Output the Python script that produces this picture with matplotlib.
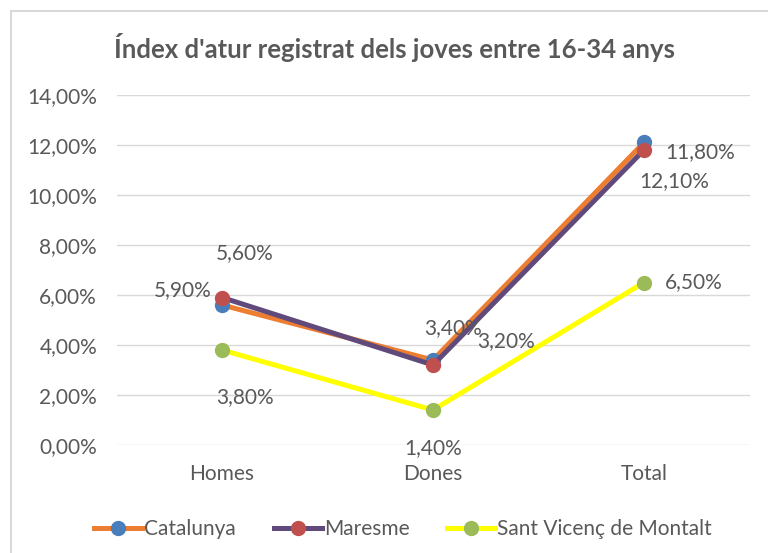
import matplotlib
matplotlib.use("Agg")
import matplotlib.pyplot as plt

categories = ["Homes", "Dones", "Total"]
catalunya = [5.60, 3.40, 12.10]
maresme = [5.90, 3.20, 11.80]
sant_vicenc = [3.80, 1.40, 6.50]
series_names = ["Catalunya", "Maresme", "Sant Vicenç de Montalt"]
yticks = [0, 2, 4, 6, 8, 10, 12, 14]

plt.rcParams['font.family'] = ['Lato', 'DejaVu Sans']
txt = '#595959'
fs = 15

fig = plt.figure(figsize=(7.68, 5.53), dpi=100)
fig.add_artist(plt.Line2D([10.5/768, 10.5/768], [0, 1 - 11/553], color='#d9d9d9', lw=1.5, transform=fig.transFigure))
fig.add_artist(plt.Line2D([10.5/768, 1], [1 - 11/553, 1 - 11/553], color='#d9d9d9', lw=1.5, transform=fig.transFigure))

ax = fig.add_axes([116.5/768, 1 - 445/553, (749.5 - 116.5)/768, (445 - 95)/553])
x = list(range(len(categories)))

styles = [
    (catalunya, '#ed7d31', '#4a7ebb'),
    (maresme, '#604a7b', '#c0504d'),
    (sant_vicenc, '#ffff00', '#9bbb59'),
]
for (vals, lc, mc), name in zip(styles, series_names):
    ax.plot(x, vals, color=lc, lw=3.6, marker='o', markersize=10,
            markerfacecolor=mc, markeredgecolor=mc, label=name, zorder=3,
            solid_joinstyle='round')

ax.set_xlim(-0.5, 2.5)
ax.set_ylim(0, 14)
ax.set_yticks(yticks)
ax.set_yticklabels([f"{v:.2f}%".replace('.', ',') for v in yticks])
ax.set_xticks(x)
ax.set_xticklabels(categories)
ax.tick_params(length=0, labelsize=fs, colors=txt)
ax.tick_params(axis='y', pad=14)
ax.tick_params(axis='x', pad=14)
ax.grid(axis='y', color='#d9d9d9', lw=1)
ax.set_axisbelow(True)
for s in ax.spines.values():
    s.set_visible(False)

def lab(v, xi, yv, dx, dy, ha='center'):
    ax.annotate(f"{v:.2f}%".replace('.', ','), (xi, yv), xytext=(dx, dy),
                textcoords='offset pixels', ha=ha, va='center',
                fontsize=fs, color=txt, zorder=4)

lab(catalunya[0], 0, catalunya[0], 23, 52)
lab(maresme[0], 0, maresme[0], -10, 7, 'right')
lab(catalunya[1], 1, catalunya[1], 20, 32)
lab(maresme[1], 1, maresme[1], 73, 24)
lab(catalunya[2], 2, catalunya[2], 30, -39)
lab(maresme[2], 2, maresme[2], 21, -2, 'left')
lab(sant_vicenc[0], 0, sant_vicenc[0], 23, -47)
lab(sant_vicenc[1], 1, sant_vicenc[1], 0, -38)
lab(sant_vicenc[2], 2, sant_vicenc[2], 21, 0, 'left')

fig.text(395/768, 1 - 48/553, "Índex d'atur registrat dels joves entre 16-34 anys",
         ha='center', va='center', fontsize=18.5, color=txt, fontweight='bold')

leg = fig.legend(loc='center', bbox_to_anchor=(403/768, 1 - 529/553), ncol=3,
                 frameon=False, fontsize=fs, handlelength=2.3, columnspacing=1.8,
                 handletextpad=0.1)
for t in leg.get_texts():
    t.set_color(txt)

fig.savefig("out.png", dpi=100)
